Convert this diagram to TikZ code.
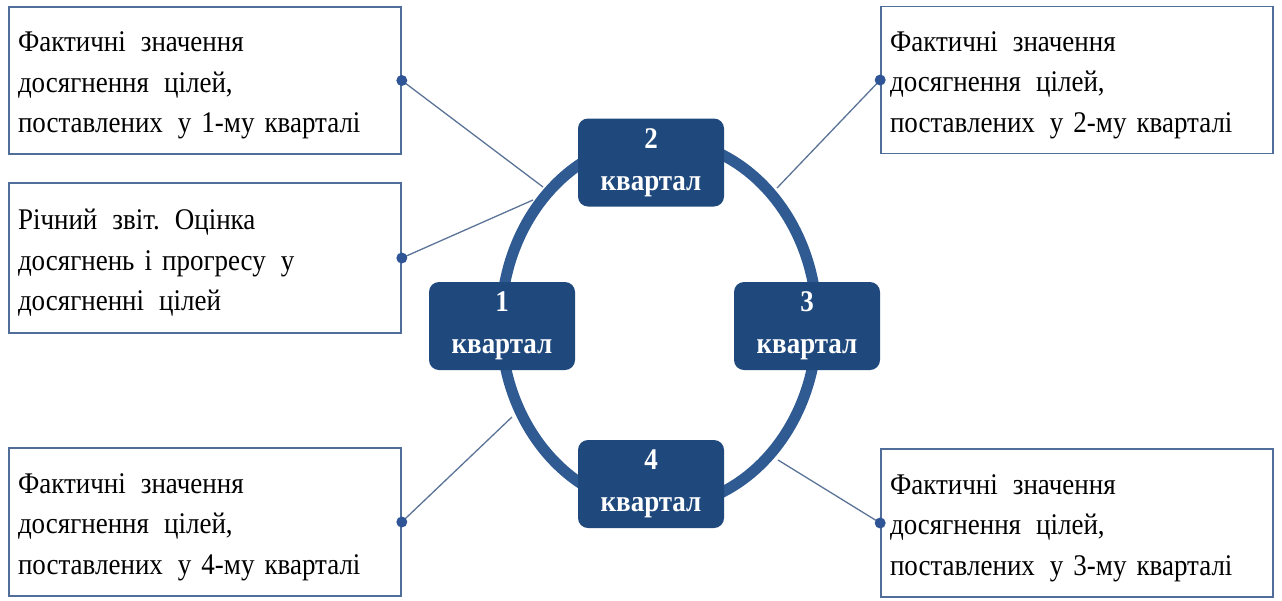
\documentclass[tikz,border=0pt]{standalone}
\usepackage{fontspec}
\setmainfont{Liberation Serif}[FakeStretch=0.9]
\definecolor{qblue}{HTML}{1F497D}
\definecolor{ringc}{HTML}{2F5A92}
\definecolor{boxborder}{HTML}{4F6E99}
\definecolor{connc}{HTML}{5B7396}
\definecolor{dotc}{HTML}{2F5597}
\newcommand{\firststrut}{\rule{0pt}{30pt}}
\newcommand{\wsp}{\hspace{0.5em}}
\begin{document}
\begin{tikzpicture}[x=1pt,y=-1pt,
  infobox/.style={draw=boxborder, line width=1.6pt, fill=white,
    minimum width=392pt, minimum height=147pt, text width=374pt,
    inner xsep=9pt, inner ysep=0pt, align=left, text=black,
    font=\fontsize{30}{40.5}\selectfont},
  quarter/.style={fill=qblue, rounded corners=10pt, minimum width=146pt,
    minimum height=88pt, inner sep=0pt, text=white, align=center,
    font=\bfseries\fontsize{30}{42}\selectfont},
  conn/.style={draw=connc, line width=1.3pt},
  dotmark/.style={fill=dotc}]
\useasboundingbox (0,0) rectangle (1282,600);

% ring
\draw[ringc, line width=11pt] (659,323.5) ellipse [x radius=158pt, y radius=184pt];

% ring contact points (free ends of connectors)
\coordinate (r1) at (543,187);
\coordinate (r0) at (533,200);
\coordinate (r4) at (512,417);
\coordinate (r2) at (777,188);
\coordinate (r3) at (778,460);

% info boxes
\node[infobox, minimum height=147pt] (b1) at (205,80.5)
  {\firststrut Фактичні\wsp значення\\ досягнення\wsp цілей,\\ поставлених\wsp у 1-му кварталі};
\node[infobox, minimum height=150pt] (b0) at (205,258)
  {\firststrut Річний\wsp звіт. Оцінка\\ досягнень і прогресу\wsp у\\ досягненні\wsp цілей};
\node[infobox, minimum height=148pt] (b4) at (205,522)
  {\firststrut Фактичні\wsp значення\\ досягнення\wsp цілей,\\ поставлених\wsp у 4-му кварталі};
\node[infobox, minimum height=147pt] (b2) at (1077,80)
  {\firststrut Фактичні\wsp значення\\ досягнення\wsp цілей,\\ поставлених\wsp у 2-му кварталі};
\node[infobox, minimum height=148pt] (b3) at (1077,523)
  {\firststrut Фактичні\wsp значення\\ досягнення\wsp цілей,\\ поставлених\wsp у 3-му кварталі};

% connectors
\draw[conn] (b1.east) -- (r1);
\draw[conn] (b0.east) -- (r0);
\draw[conn] (b4.east) -- (r4);
\draw[conn] (b2.west) -- (r2);
\draw[conn] (b3.west) -- (r3);

% dots
\fill[dotmark] (b1.east) circle (5.5pt);
\fill[dotmark] (b0.east) circle (5.5pt);
\fill[dotmark] (b4.east) circle (5.5pt);
\fill[dotmark] (b2.west) circle (5.5pt);
\fill[dotmark] (b3.west) circle (5.5pt);

% quarter boxes
\node[quarter] (q1) at (502,326) {1\\квартал};
\node[quarter] (q2) at (651,162.5) {2\\квартал};
\node[quarter] (q3) at (807,326) {3\\квартал};
\node[quarter] (q4) at (651,484) {4\\квартал};
\end{tikzpicture}
\end{document}
